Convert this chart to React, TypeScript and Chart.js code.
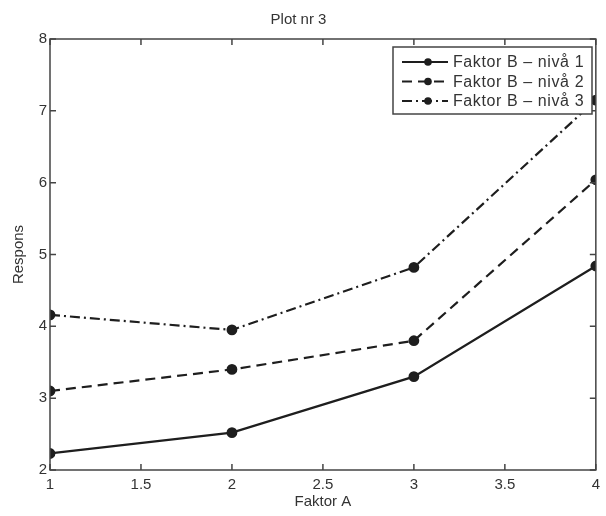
import React, { useEffect, useRef } from "react";
import { Chart, registerables } from "chart.js";

Chart.register(...registerables);

const faktorA = [1, 2, 3, 4];
const nivaa1 = [2.23, 2.52, 3.3, 4.84];
const nivaa2 = [3.1, 3.4, 3.8, 6.04];
const nivaa3 = [4.16, 3.95, 4.82, 7.15];
const seriesNames = ["Faktor B \u2013 nivå 1", "Faktor B \u2013 nivå 2", "Faktor B \u2013 nivå 3"];
const dashes: number[][] = [[], [10, 6], [10, 4, 2, 4]];

const INK = "#1e1e1e";
const TEXT = "#333333";
const FONT = "'Liberation Sans', Arial, sans-serif";

const boxPlugin = {
  id: "matlabBox",
  afterDraw(chart: any) {
    const { ctx, chartArea } = chart;
    const { left, right, top, bottom } = chartArea;
    ctx.save();
    ctx.strokeStyle = "#444";
    ctx.lineWidth = 1.5;
    ctx.strokeRect(left, top, right - left, bottom - top);
    const xs = chart.scales.x;
    const ys = chart.scales.y;
    const L = 6;
    ctx.beginPath();
    xs.ticks.forEach((t: any) => {
      const px = xs.getPixelForValue(t.value);
      ctx.moveTo(px, bottom);
      ctx.lineTo(px, bottom - L);
      ctx.moveTo(px, top);
      ctx.lineTo(px, top + L);
    });
    ys.ticks.forEach((t: any) => {
      const py = ys.getPixelForValue(t.value);
      ctx.moveTo(left, py);
      ctx.lineTo(left + L, py);
      ctx.moveTo(right, py);
      ctx.lineTo(right - L, py);
    });
    ctx.stroke();

    // legend
    const lx = 393, ly = 47, lw = 199, lh = 67;
    ctx.fillStyle = "#ffffff";
    ctx.fillRect(lx, ly, lw, lh);
    ctx.strokeStyle = "#444";
    ctx.lineWidth = 1.5;
    ctx.strokeRect(lx, ly, lw, lh);
    ctx.font = `16px ${FONT}`;
    try { (ctx as any).letterSpacing = "0.6px"; } catch (e) {}
    ctx.textBaseline = "middle";
    ctx.textAlign = "left";
    chart.data.datasets.forEach((ds: any, i: number) => {
      const y = ly + 15 + i * 19.5;
      ctx.strokeStyle = INK;
      ctx.lineWidth = 2.2;
      ctx.setLineDash(ds.borderDash || []);
      ctx.beginPath();
      ctx.moveTo(lx + 9, y);
      ctx.lineTo(lx + 55, y);
      ctx.stroke();
      ctx.setLineDash([]);
      ctx.fillStyle = INK;
      ctx.beginPath();
      ctx.arc(lx + 35, y, 3.8, 0, Math.PI * 2);
      ctx.fill();
      ctx.fillStyle = TEXT;
      ctx.fillText(ds.label, lx + 60, y + 1);
    });
    ctx.restore();
  },
};

export default function App() {
  const ref = useRef<HTMLCanvasElement>(null);
  useEffect(() => {
    if (!ref.current) return;
    const all = [nivaa1, nivaa2, nivaa3];
    const chart = new Chart(ref.current, {
      type: "line",
      data: {
        datasets: all.map((vals, i) => ({
          label: seriesNames[i],
          data: faktorA.map((x, j) => ({ x, y: vals[j] })),
          borderColor: INK,
          backgroundColor: INK,
          borderWidth: 2.2,
          borderDash: dashes[i],
          pointRadius: 4.3,
          pointBackgroundColor: INK,
          pointBorderColor: INK,
          tension: 0,
        })),
      },
      options: {
        responsive: false,
        animation: false,
        layout: { padding: { left: 0, right: 9, top: 0, bottom: 0 } },
        plugins: {
          legend: { display: false },
          tooltip: { enabled: false },
          title: {
            display: true,
            text: "Plot nr 3",
            color: TEXT,
            font: { family: FONT, size: 15, weight: "normal" },
            padding: { top: 11, bottom: 10 },
          },
        },
        scales: {
          x: {
            type: "linear",
            min: 1,
            max: 4,
            grid: { display: false, drawTicks: false },
            border: { display: false },
            ticks: {
              stepSize: 0.5,
              padding: 6,
              color: TEXT,
              font: { family: FONT, size: 15 },
              maxRotation: 0,
              callback: (v: any) => String(Number(v)),
            },
            title: {
              display: true,
              text: "Faktor A",
              color: TEXT,
              font: { family: FONT, size: 15 },
              padding: { top: 0, bottom: 5 },
            },
            afterFit: (s: any) => {
              s.height = 46;
            },
          },
          y: {
            type: "linear",
            min: 2,
            max: 8,
            grid: { display: false, drawTicks: false },
            border: { display: false },
            ticks: {
              stepSize: 1,
              padding: 3,
              color: TEXT,
              font: { family: FONT, size: 15 },
              callback: (v: any) => String(Number(v)),
            },
            title: {
              display: true,
              text: "Respons",
              color: TEXT,
              font: { family: FONT, size: 15 },
              padding: { top: 10, bottom: 0 },
            },
            afterFit: (s: any) => {
              s.width = 50;
            },
          },
        },
      },
      plugins: [boxPlugin],
    });
    return () => chart.destroy();
  }, []);
  return (
    <div style={{ position: "absolute", left: 0, top: 0, width: 606, height: 516, background: "#fff" }}>
      <canvas ref={ref} width={606} height={516} />
    </div>
  );
}
